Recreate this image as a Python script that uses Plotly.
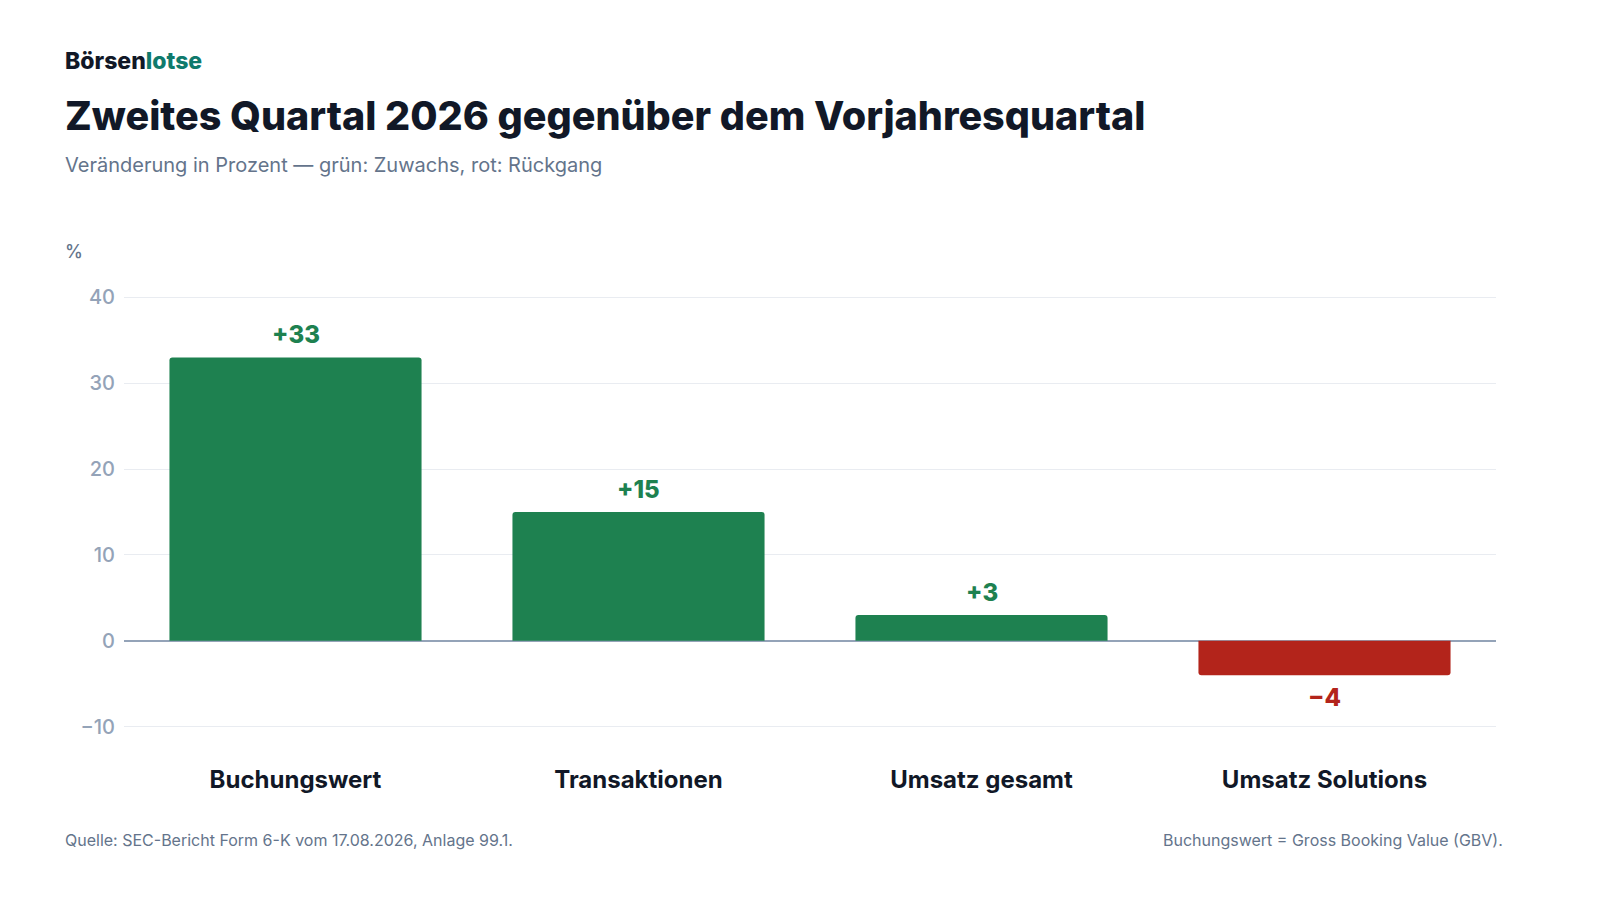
import plotly.graph_objects as go

categories = ["Buchungswert", "Transaktionen", "Umsatz gesamt", "Umsatz Solutions"]
values = [33, 15, 3, -4]
y_ticks = [-10, 0, 10, 20, 30, 40]

GREEN = "#1e8150"
RED = "#b3241b"
DARK = "#111827"
MUTED = "#64748b"
TICK = "#94a3b8"
FONT = "Inter, Roboto, sans-serif"

colors = [GREEN if v >= 0 else RED for v in values]
labels = [("+" if v > 0 else "\u2212" if v < 0 else "") + str(abs(v)) for v in values]

fig = go.Figure(go.Bar(x=categories, y=values, marker_color=colors,
                       marker_line_width=0, hoverinfo="skip"))

# value labels above / below each bar
for cat, v, lab, col in zip(categories, values, labels, colors):
    fig.add_annotation(x=cat, y=v, xref="x", yref="y", text=lab,
                       showarrow=False, yanchor="middle", yshift=23 if v >= 0 else -22,
                       font=dict(family=FONT, size=24, color=col, weight=800))

PT, PB = 293, 169
PH = 900 - PT - PB

fig.update_layout(
    width=1600, height=900,
    paper_bgcolor="white", plot_bgcolor="white",
    margin=dict(l=124, r=104, t=PT, b=PB),
    bargap=0.265, barcornerradius=3,
    showlegend=False,
    font=dict(family=FONT, color=DARK),
)

fig.update_yaxes(range=[-10.5, 40.5], tickvals=y_ticks, showgrid=True, gridcolor="#e9ecf1",
                 gridwidth=1, zeroline=True, zerolinecolor=TICK, zerolinewidth=2,
                 tickfont=dict(family=FONT, size=20, color=TICK, weight=500), ticklabelstandoff=8,
                 showline=False, fixedrange=True)
fig.update_xaxes(tickfont=dict(family=FONT, size=24, color=DARK, weight=700), showgrid=False,
                 showline=False, ticklabelstandoff=32, fixedrange=True)


def py(pixel_y):
    # page pixel -> paper coordinate
    return (900 - PB - pixel_y) / PH


LEFT = -61 / 1372

# header
fig.add_annotation(xref="paper", yref="paper", x=LEFT, y=py(61),
                   text="Börsen<span style='color:#0f7a6c'>lotse</span>",
                   showarrow=False, xanchor="left", yanchor="middle",
                   font=dict(family=FONT, size=23, color=DARK, weight=800))
fig.add_annotation(xref="paper", yref="paper", x=LEFT, y=py(116),
                   text="Zweites Quartal 2026 gegenüber dem Vorjahresquartal",
                   showarrow=False, xanchor="left", yanchor="middle",
                   font=dict(family=FONT, size=39.5, color=DARK, weight=800))
fig.add_annotation(xref="paper", yref="paper", x=LEFT, y=py(165),
                   text="Veränderung in Prozent — grün: Zuwachs, rot: Rückgang",
                   showarrow=False, xanchor="left", yanchor="middle",
                   font=dict(family=FONT, size=20, color=MUTED))
fig.add_annotation(xref="paper", yref="paper", x=LEFT, y=py(252),
                   text="%", showarrow=False, xanchor="left", yanchor="middle",
                   font=dict(family=FONT, size=18, color=MUTED, weight=500))

# footer
fig.add_annotation(xref="paper", yref="paper", x=LEFT, y=py(840),
                   text="Quelle: SEC-Bericht Form 6-K vom 17.08.2026, Anlage 99.1.",
                   showarrow=False, xanchor="left", yanchor="middle",
                   font=dict(family=FONT, size=16, color=MUTED))
fig.add_annotation(xref="paper", yref="paper", x=1 + 9 / 1372, y=py(840),
                   text="Buchungswert = Gross Booking Value (GBV).",
                   showarrow=False, xanchor="right", yanchor="middle",
                   font=dict(family=FONT, size=16, color=MUTED))

fig.write_html("out.html", config={"displayModeBar": False},
               post_script="document.body.style.margin='0';document.body.style.overflow='hidden';")
